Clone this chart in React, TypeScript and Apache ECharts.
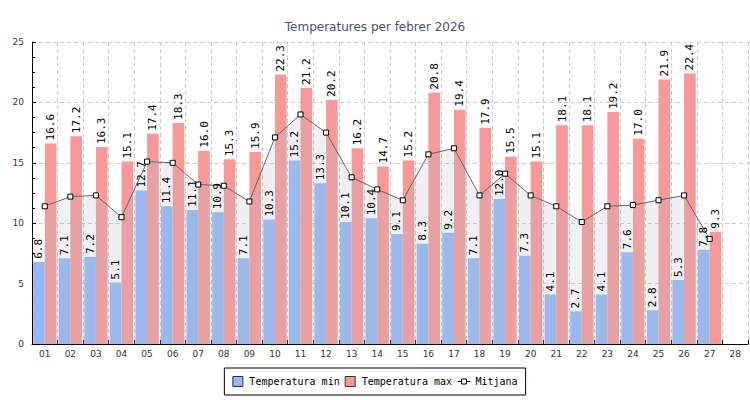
import React, { useEffect, useRef } from "react";
import * as echarts from "echarts";

const days = ["01","02","03","04","05","06","07","08","09","10","11","12","13","14","15","16","17","18","19","20","21","22","23","24","25","26","27","28"];
const tempMin = [6.8, 7.1, 7.2, 5.1, 12.7, 11.4, 11.1, 10.9, 7.1, 10.3, 15.2, 13.3, 10.1, 10.4, 9.1, 8.3, 9.2, 7.1, 12.0, 7.3, 4.1, 2.7, 4.1, 7.6, 2.8, 5.3, 7.8, null];
const tempMax = [16.6, 17.2, 16.3, 15.1, 17.4, 18.3, 16.0, 15.3, 15.9, 22.3, 21.2, 20.2, 16.2, 14.7, 15.2, 20.8, 19.4, 17.9, 15.5, 15.1, 18.1, 18.1, 19.2, 17.0, 21.9, 22.4, 9.3, null];
const tempMean = [11.4, 12.2, 12.3, 10.5, 15.1, 15.0, 13.2, 13.1, 11.8, 17.1, 19.0, 17.5, 13.8, 12.8, 11.9, 15.7, 16.2, 12.3, 14.1, 12.3, 11.4, 10.1, 11.4, 11.5, 11.9, 12.3, 8.7, null];

const MONO = "DejaVu Sans Mono";
const SANS = "DejaVu Sans";

export default function App() {
  const ref = useRef<HTMLDivElement>(null);
  useEffect(() => {
    if (!ref.current) return;
    const chart = echarts.init(ref.current, null, { renderer: "svg" });
    const barLabel = {
      show: true,
      position: "top" as const,
      rotate: 90,
      align: "left" as const,
      verticalAlign: "middle" as const,
      distance: 3,
      fontFamily: MONO,
      fontSize: 11,
      color: "#000",
      formatter: (p: any) => (p.value == null ? "" : Number(p.value).toFixed(1)),
    };
    const barLayout = { barGap: "0%", barCategoryGap: "9%" };
    chart.setOption({
      animation: false,
      backgroundColor: "#fff",
      title: {
        text: "Temperatures per febrer 2026",
        left: "center",
        top: 16,
        textStyle: { fontFamily: SANS, fontSize: 12, fontWeight: "normal", color: "#4a5070" },
      },
      legend: {
        bottom: 5,
        left: "center",
        padding: [8, 8],
        borderColor: "#000",
        borderWidth: 1,
        backgroundColor: "#fff",
        itemGap: 5,
        itemWidth: 13,
        itemHeight: 10,
        symbolKeepAspect: true,
        textStyle: { fontFamily: MONO, fontSize: 10, color: "#000" },
        data: [
          { name: "Temperatura min", icon: "path://M0,0H10V10H0Z", itemStyle: { borderColor: "#333", borderWidth: 1 } },
          { name: "Temperatura max", icon: "path://M0,0H10V10H0Z", itemStyle: { borderColor: "#333", borderWidth: 1 } },
          { name: "Mitjana", icon: "path://M0,2.5H4M4,0H9V5H4ZM9,2.5H13", itemStyle: { color: "#fff", borderColor: "#000", borderWidth: 1 } },
        ],
      },
      grid: { left: 32, right: 2, top: 42, bottom: 56 },
      xAxis: [
        {
          type: "category",
          data: days,
          boundaryGap: true,
          axisLine: { lineStyle: { color: "#000", width: 1 } },
          axisTick: { show: true, inside: true, length: 4, interval: 0, lineStyle: { color: "#000" } },
          axisLabel: { fontFamily: SANS, fontSize: 9, color: "#333", margin: 5, interval: 0 },
          splitLine: { show: true, interval: 0, lineStyle: { color: "#ccc", type: [4, 3] } },
        },
        { type: "category", data: days, boundaryGap: true, show: false },
      ],
      yAxis: {
        type: "value",
        min: 0,
        max: 25,
        interval: 5,
        axisLine: { show: true, lineStyle: { color: "#000", width: 1 } },
        axisTick: { show: true, inside: true, length: 4, lineStyle: { color: "#000" } },
        minorTick: { show: true, splitNumber: 4, length: 3, lineStyle: { color: "#000" } },
        axisLabel: { fontFamily: SANS, fontSize: 9, color: "#333", margin: 8 },
        splitLine: { show: true, lineStyle: { color: "#ccc", type: [4, 3] } },
      },
      series: [
        {
          name: "Temperatura min",
          type: "bar",
          data: tempMin,
          ...barLayout,
          itemStyle: { color: "#94b8f8" },
          z: 2,
        },
        {
          name: "Temperatura max",
          type: "bar",
          data: tempMax,
          ...barLayout,
          itemStyle: { color: "#f89898" },
          z: 2,
        },
        {
          name: "Mitjana",
          type: "line",
          data: tempMean,
          symbol: "rect",
          symbolSize: 5,
          showAllSymbol: true,
          lineStyle: { color: "#666", width: 1 },
          itemStyle: { color: "#fff", borderColor: "#000", borderWidth: 1 },
          areaStyle: { color: "rgba(185,188,195,0.32)", origin: "start" },
          z: 3,
        },
        {
          name: "min-labels",
          type: "bar",
          xAxisIndex: 1,
          data: tempMin,
          ...barLayout,
          itemStyle: { color: "rgba(0,0,0,0)" },
          label: barLabel,
          silent: true,
          z: 4,
        },
        {
          name: "max-labels",
          type: "bar",
          xAxisIndex: 1,
          data: tempMax,
          ...barLayout,
          itemStyle: { color: "rgba(0,0,0,0)" },
          label: barLabel,
          silent: true,
          z: 4,
        },
      ],
    });
    return () => chart.dispose();
  }, []);
  return <div ref={ref} style={{ position: "fixed", left: 0, top: 0, width: 750, height: 400 }} />;
}
